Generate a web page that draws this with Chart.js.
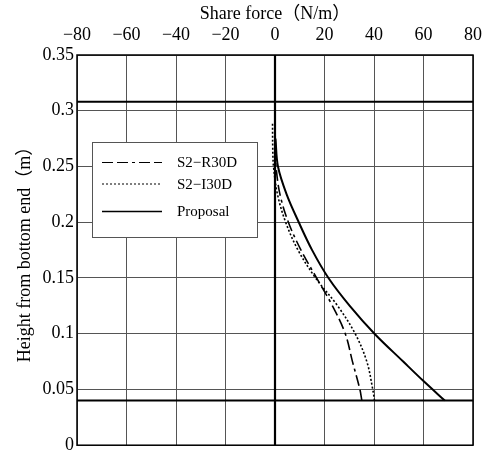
<!DOCTYPE html>
<html>
<head>
<meta charset="utf-8">
<script src="https://cdn.jsdelivr.net/npm/chart.js@4/dist/chart.umd.min.js"></script>
<style>
  html, body { margin: 0; padding: 0; background: #fff; }
  #wrap { width: 491px; height: 459px; }
</style>
</head>
<body>
<div id="wrap"><canvas id="c" width="491" height="459"></canvas></div>
<script>
// Shear force distribution along the height (N/m vs m)
const heightsR30D = [0.04, 0.05, 0.075, 0.1, 0.125, 0.15, 0.175, 0.2, 0.225, 0.25, 0.265, 0.28];
const forceR30D   = [35.1, 34.3, 31.3, 28.4, 23.2, 16.8, 10.5, 5.4, 2.0, 0.4, 0.1, 0.0];

const heightsI30D = [0.04, 0.05, 0.075, 0.1, 0.125, 0.15, 0.175, 0.2, 0.225, 0.25, 0.265, 0.289];
const forceI30D   = [40.2, 39.5, 37.1, 32.4, 25.3, 16.4, 9.3, 4.3, 1.0, -0.6, -0.9, -1.0];

const heightsProposal = [0.04, 0.0575, 0.075, 0.1, 0.125, 0.15, 0.175, 0.2, 0.225, 0.25, 0.275];
const forceProposal   = [68.6, 60.0, 51.8, 40.2, 30.2, 21.6, 15.0, 9.6, 4.7, 1.2, 0.2];

// Horizontal boundary lines (m) and the zero-force line
const boundaryHeights = [0.04, 0.308];
const zeroForce = 0;

const xTicks = [-80, -60, -40, -20, 0, 20, 40, 60, 80];
const yTicks = [0, 0.05, 0.1, 0.15, 0.2, 0.25, 0.3, 0.35];

const seriesNames = ['S2\u2212R30D', 'S2\u2212I30D', 'Proposal'];

const SERIF = '"Liberation Serif", "Times New Roman", "Noto Sans CJK SC", serif';

const pts = (xs, ys) => xs.map((x, i) => ({ x: x, y: ys[i] }));

const curveSets = [
  { label: seriesNames[0], data: pts(forceR30D, heightsR30D), borderColor: '#000', borderWidth: 1.6,
    borderDash: [11, 4, 11, 4, 3, 4], pointRadius: 0, showLine: true, tension: 0.35, fill: false },
  { label: seriesNames[1], data: pts(forceI30D, heightsI30D), borderColor: '#000', borderWidth: 1.6,
    borderDash: [2, 2], pointRadius: 0, showLine: true, tension: 0.35, fill: false },
  { label: seriesNames[2], data: pts(forceProposal, heightsProposal), borderColor: '#000', borderWidth: 2,
    borderDash: [], pointRadius: 0, showLine: true, tension: 0.35, fill: false }
];

const refSets = boundaryHeights.map(h => ({
  label: '_ref', data: [{ x: xTicks[0], y: h }, { x: xTicks[xTicks.length - 1], y: h }],
  borderColor: '#000', borderWidth: 2, pointRadius: 0, showLine: true, fill: false
}));
refSets.push({
  label: '_ref', data: [{ x: zeroForce, y: yTicks[0] }, { x: zeroForce, y: yTicks[yTicks.length - 1] }],
  borderColor: '#000', borderWidth: 2.2, pointRadius: 0, showLine: true, fill: false
});

// Frame around the plotting area plus the boxed legend inside it
const framePlugin = {
  id: 'frameAndLegend',
  afterDraw(chart) {
    const ctx = chart.ctx;
    const a = chart.chartArea;
    ctx.save();
    ctx.strokeStyle = '#000';
    ctx.lineWidth = 1.5;
    ctx.strokeRect(a.left, a.top, a.right - a.left, a.bottom - a.top);

    const bx = a.left + 15, by = a.top + 87, bw = 165, bh = 95;
    ctx.fillStyle = '#fff';
    ctx.fillRect(bx, by, bw, bh);
    ctx.strokeStyle = '#555';
    ctx.lineWidth = 1;
    ctx.strokeRect(bx + 0.5, by + 0.5, bw, bh);

    const rows = [20.5, 42, 69.5];
    ctx.font = '15px ' + SERIF;
    ctx.textBaseline = 'middle';
    ctx.textAlign = 'left';
    curveSets.forEach((ds, i) => {
      const y = by + rows[i];
      ctx.strokeStyle = '#000';
      ctx.lineWidth = i === 2 ? 1.5 : 1.2;
      ctx.setLineDash(ds.borderDash);
      ctx.beginPath();
      ctx.moveTo(bx + 10, y);
      ctx.lineTo(bx + 70, y);
      ctx.stroke();
      ctx.setLineDash([]);
      ctx.fillStyle = '#000';
      ctx.fillText(ds.label, bx + 85, y + 1);
    });
    ctx.restore();
  }
};

new Chart(document.getElementById('c'), {
  type: 'scatter',
  data: { datasets: [...curveSets, ...refSets] },
  options: {
    responsive: false,
    animation: false,
    devicePixelRatio: 1,
    layout: { padding: { left: 0, top: 0, right: 16, bottom: 8 } },
    plugins: { legend: { display: false }, tooltip: { enabled: false } },
    scales: {
      x: {
        type: 'linear',
        position: 'top',
        min: xTicks[0], max: xTicks[xTicks.length - 1],
        afterBuildTicks: s => { s.ticks = xTicks.map(v => ({ value: v })); },
        afterFit: s => { s.height = 55; },
        ticks: {
          color: '#000', padding: 9,
          font: { family: SERIF, size: 18 },
          maxRotation: 0,
          callback: v => String(v).replace('-', '\u2212')
        },
        grid: { color: '#555', lineWidth: 1, drawTicks: false },
        border: { display: false },
        title: {
          display: true, text: 'Share force\uFF08N/m\uFF09', color: '#000',
          font: { family: SERIF, size: 18 }, padding: { top: 3, bottom: 0 }
        }
      },
      y: {
        type: 'linear',
        min: yTicks[0], max: yTicks[yTicks.length - 1],
        afterBuildTicks: s => { s.ticks = yTicks.map(v => ({ value: v })); },
        afterFit: s => { s.width = 77; },
        ticks: {
          color: '#000', padding: 3,
          font: { family: SERIF, size: 18 },
          callback: v => String(+v.toFixed(2))
        },
        grid: { color: '#555', lineWidth: 1, drawTicks: false },
        border: { display: false },
        title: {
          display: true, text: 'Height from bottom end\uFF08m\uFF09', color: '#000',
          font: { family: SERIF, size: 18 }, padding: { top: 14, bottom: 0 }
        }
      }
    }
  },
  plugins: [framePlugin]
});
</script>
</body>
</html>
